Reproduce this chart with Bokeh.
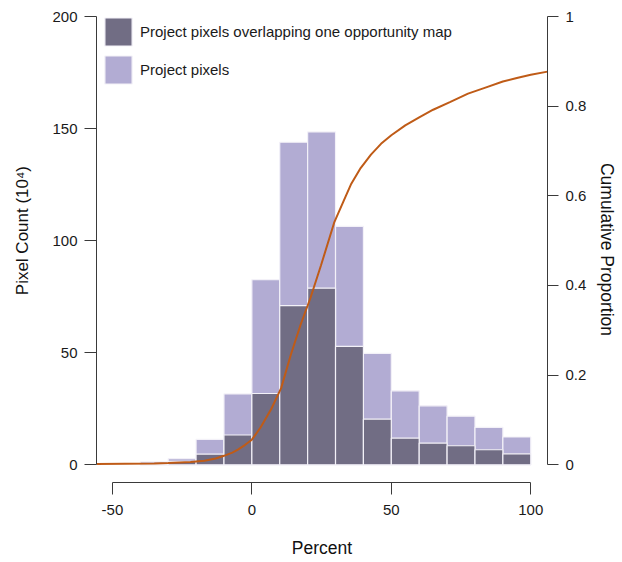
from bokeh.plotting import figure
from bokeh.models import (Range1d, LinearAxis, FixedTicker, Legend, LegendItem,
                          CustomJSTickFormatter, ColumnDataSource)
from bokeh.embed import file_html
from bokeh.resources import INLINE

# ---- data ----
bin_left = [-40, -30, -20, -10, 0, 10, 20, 30, 40, 50, 60, 70, 80, 90]
bin_right = [-30, -20, -10, 0, 10, 20, 30, 40, 50, 60, 70, 80, 90, 100]
project_pixels = [1.3, 2.7, 11.3, 31.6, 82.6, 143.9, 148.5, 106.4, 49.7, 33.0, 26.3, 21.7, 16.7, 12.4]
overlap_pixels = [0.4, 1.5, 4.8, 13.3, 31.8, 71.0, 78.8, 52.8, 20.4, 11.9, 9.7, 8.5, 6.7, 4.9]

cum_x = [-55.7, -35, -30, -22, -17, -13, -10, -7, -5, -2.5, 0, 3, 7, 10.5, 14, 17.5, 21,
         24.8, 29.5, 33, 35.5, 39, 42.7, 46.3, 50, 55, 60, 65, 71, 77.5, 84, 90, 95, 100, 106]
cum_y = [0.002, 0.003, 0.004, 0.006, 0.009, 0.014, 0.02, 0.027, 0.034, 0.044, 0.056, 0.082,
         0.125, 0.171, 0.246, 0.313, 0.372, 0.445, 0.54, 0.59, 0.625, 0.662, 0.692, 0.716,
         0.735, 0.757, 0.775, 0.792, 0.809, 0.828, 0.842, 0.855, 0.863, 0.870, 0.877]

left_ticks = [0, 50, 100, 150, 200]
right_ticks = [0, 0.2, 0.4, 0.6, 0.8, 1]
x_ticks = [-50, 0, 50, 100]

DARK = "#716d84"
LIGHT = "#b2acd3"
EDGE = "#f3f1f8"
CURVE = "#bf5b17"
AXIS = "#3a3a3a"
FONT = "Liberation Sans"

ystart = -7.9
p = figure(width=622, height=562, output_backend="svg", toolbar_location=None,
           x_range=Range1d(-55.7, 106.0), y_range=Range1d(ystart, 200),
           min_border_left=96, min_border_right=75, min_border_top=16, min_border_bottom=80,
           x_axis_location=None, y_axis_location=None)
p.extra_y_ranges = {"cum": Range1d(ystart / 200.0, 1)}
p.outline_line_color = None
p.grid.visible = False
p.background_fill_color = "white"
p.border_fill_color = "white"

src = ColumnDataSource(dict(left=bin_left, right=bin_right, light=project_pixels,
                            dark=overlap_pixels, bottom=[0] * len(bin_left)))
r_light = p.quad(left="left", right="right", bottom="bottom", top="light", source=src,
                 fill_color=LIGHT, line_color=EDGE, line_width=1.2)
r_dark = p.quad(left="left", right="right", bottom="bottom", top="dark", source=src,
                fill_color=DARK, line_color=EDGE, line_width=1.2)
p.line(cum_x, cum_y, y_range_name="cum", line_color=CURVE, line_width=2)


def style_axis(ax, title, standoff, size="17.5px"):
    ax.axis_line_color = AXIS
    ax.major_tick_line_color = AXIS
    ax.minor_tick_line_color = None
    ax.major_tick_in = 0
    ax.major_tick_out = 12
    ax.major_label_text_font = FONT
    ax.major_label_text_font_size = "15px"
    ax.major_label_text_color = "#1a1a1a"
    ax.axis_label = title
    ax.axis_label_text_font = FONT
    ax.axis_label_text_font_size = size
    ax.axis_label_text_font_style = "normal"
    ax.axis_label_text_color = "#111111"
    ax.axis_label_standoff = standoff


fmt = CustomJSTickFormatter(code="return String(tick);")

# leading no-break spaces nudge the rotated title upward to sit where the reference has it
ly = LinearAxis(ticker=FixedTicker(ticks=left_ticks), bounds=(0, 200), formatter=fmt)
style_axis(ly, "\u00a0" * 8 + "Pixel Count (10⁴)", 17, "17px")
ly.major_label_standoff = 7
p.add_layout(ly, "left")

ry = LinearAxis(y_range_name="cum", ticker=FixedTicker(ticks=right_ticks), bounds=(0, 1),
                formatter=fmt)
style_axis(ry, "Cumulative Proportion", 8)
ry.major_tick_out = 11
ry.major_label_standoff = 7
p.add_layout(ry, "right")

bx = LinearAxis(ticker=FixedTicker(ticks=x_ticks), bounds=(-50, 100), formatter=fmt)
style_axis(bx, "Percent", 20)
bx.major_label_standoff = 10
p.add_layout(bx, "below")

legend = Legend(items=[LegendItem(label="Project pixels overlapping one opportunity map", renderers=[r_dark]),
                       LegendItem(label="Project pixels", renderers=[r_light])],
                location=(5, 395), padding=0, margin=0, spacing=3,
                glyph_width=34, glyph_height=35, label_height=35, label_standoff=5,
                label_text_font=FONT, label_text_font_size="15px", label_text_color="#1a1a1a",
                border_line_color=None, background_fill_alpha=0)
p.add_layout(legend, "center")

open("out.html", "w").write(file_html(p, INLINE))
